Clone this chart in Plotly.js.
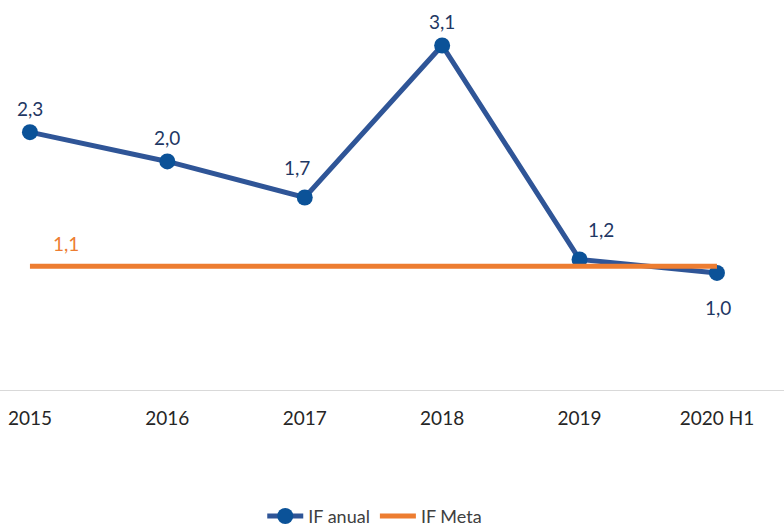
<!DOCTYPE html>
<html><head><meta charset="utf-8">
<script src="https://cdn.plot.ly/plotly-3.0.1.min.js"></script>
<style>html,body{margin:0;padding:0;background:#fff}#c{width:784px;height:529px}</style>
</head><body><div id="c"></div>
<script>
const categories = ['2015','2016','2017','2018','2019','2020 H1'];
const ifAnual = [2.29, 2.03, 1.71, 3.06, 1.16, 1.04];
const ifMeta = [1.1, 1.1, 1.1, 1.1, 1.1, 1.1];
const seriesNames = ['IF anual', 'IF Meta'];

const fmt = v => v.toFixed(1).replace('.', ',');
const shifts = [[0,24],[0,24],[-8,30],[0,24],[21,30],[1,-35]];
const ann = ifAnual.map((v,i) => ({
  x: i, y: v, xref:'x', yref:'y', text: fmt(v), showarrow:false,
  xshift: shifts[i][0], yshift: shifts[i][1],
  font:{family:'Lato, sans-serif', size:19, color:'#1F3864'}
}));
ann.push({x:0, y:ifMeta[0], xref:'x', yref:'y', text: fmt(ifMeta[0]), showarrow:false,
  xshift:36, yshift:23, font:{family:'Lato, sans-serif', size:19, color:'#ED7D31'}});

const data = [
  {x: categories, y: ifAnual, name: seriesNames[0], type:'scatter', mode:'lines+markers',
   line:{color:'#2F5597', width:5}, marker:{color:'#0B5298', size:16}, hoverinfo:'none'},
  {x: categories, y: ifMeta, name: seriesNames[1], type:'scatter', mode:'lines',
   line:{color:'#ED7D31', width:5}, hoverinfo:'none'}
];
const layout = {
  width:784, height:529,
  margin:{l:0, r:0, t:10, b:139},
  paper_bgcolor:'#fff', plot_bgcolor:'#fff',
  showlegend:true,
  legend:{orientation:'h', x:0.478, xanchor:'center', yref:'container', y:0.024, yanchor:'middle',
    font:{family:'Lato, sans-serif', size:18, color:'#404040'}, itemwidth:36, traceorder:'normal'},
  xaxis:{type:'category', range:[-0.218, 5.488], showgrid:false, zeroline:false,
    showline:true, linecolor:'#D9D9D9', linewidth:1, ticks:'', ticklabelstandoff:11,
    tickfont:{family:'Lato, sans-serif', size:19, color:'#262626'}},
  yaxis:{range:[0, 3.375], visible:false, showgrid:false, zeroline:false},
  annotations: ann
};
Plotly.newPlot('c', data, layout, {displayModeBar:false, staticPlot:true});
</script></body></html>
